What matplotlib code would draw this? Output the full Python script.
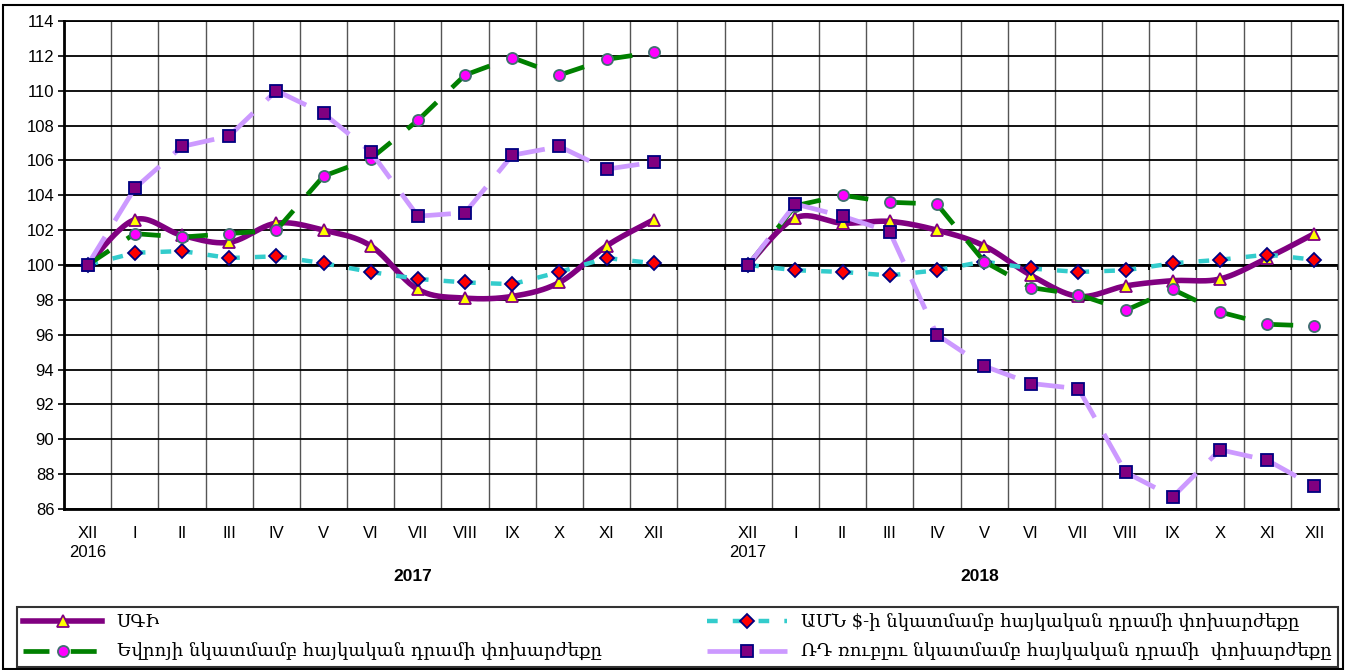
import numpy as np
import matplotlib
matplotlib.use("Agg")
import matplotlib.pyplot as plt
from matplotlib.lines import Line2D
from matplotlib.patches import Rectangle
import matplotlib.transforms as mtransforms

# ---------------- data ----------------
months = ["XII", "I", "II", "III", "IV", "V", "VI", "VII", "VIII", "IX", "X", "XI", "XII"]
periods = ["2017", "2018"]
base_years = ["2016", "2017"]

cpi_2017 = [100, 102.6, 101.7, 101.3, 102.4, 102.0, 101.1, 98.6, 98.1, 98.2, 99.0, 101.1, 102.6]
cpi_2018 = [100, 102.7, 102.4, 102.5, 102.0, 101.1, 99.4, 98.2, 98.8, 99.1, 99.2, 100.4, 101.8]
usd_2017 = [100, 100.7, 100.8, 100.4, 100.5, 100.1, 99.6, 99.2, 99.0, 98.9, 99.6, 100.4, 100.1]
usd_2018 = [100, 99.7, 99.6, 99.4, 99.7, 100.2, 99.8, 99.6, 99.7, 100.1, 100.3, 100.6, 100.3]
eur_2017 = [100, 101.8, 101.6, 101.8, 102.0, 105.1, 106.1, 108.3, 110.9, 111.9, 110.9, 111.8, 112.2]
eur_2018 = [100, 103.4, 104.0, 103.6, 103.5, 100.2, 98.7, 98.3, 97.4, 98.6, 97.3, 96.6, 96.5]
rub_2017 = [100, 104.4, 106.8, 107.4, 110.0, 108.7, 106.5, 102.8, 103.0, 106.3, 106.8, 105.5, 105.9]
rub_2018 = [100, 103.5, 102.8, 101.9, 96.0, 94.2, 93.2, 92.9, 88.1, 86.7, 89.4, 88.8, 87.3]

labels = [
    "ՍԳԻ",
    "ԱՄՆ $-ի նկատմամբ հայկական դրամի փոխարժեքը",
    "Եվրոյի նկատմամբ հայկական դրամի փոխարժեքը",
    "ՌԴ ռուբլու նկատմամբ հայկական դրամի  փոխարժեքը",
]

# ---------------- styles ----------------
C_CPI = "#800080"
C_USD = "#33CCCC"
C_EUR = "#008000"
C_RUB = "#CC99FF"
D_USD = (2.4, 3.4)
D_EUR = (5.5, 4.5)
D_RUB = (7.0, 4.0)

W, H = 1346, 670
fig = plt.figure(figsize=(W / 100, H / 100), dpi=100)
ax = fig.add_axes([64 / W, 1 - 509 / H, (1338 - 64) / W, 488 / H])

n = len(months)
x1 = np.arange(n)
x2 = np.arange(n) + n + 1
xticks = np.concatenate([x1, x2])
xlabels = months + months
ntot = 2 * n + 1

ax.set_xlim(-0.5, ntot - 0.5)
ax.set_ylim(86, 114)
ax.set_yticks(np.arange(86, 115, 2))

bounds = np.arange(-0.5, ntot, 1.0)
ax.set_xticks(bounds, minor=True)
ax.set_xticks(xticks)
ax.set_xticklabels(xlabels, family="Liberation Sans", fontsize=12)
ax.tick_params(axis="x", which="both", length=0, pad=12)
ax.tick_params(axis="y", length=4, width=1.2, pad=3, labelsize=12)
for t in ax.get_yticklabels():
    t.set_family("Liberation Sans")

ax.grid(axis="y", which="major", color="black", lw=1.3, zorder=0)
ax.grid(axis="x", which="minor", color="#555555", lw=1.0, zorder=0)
ax.set_axisbelow(True)
for s in ["left", "bottom"]:
    ax.spines[s].set_linewidth(2.0)
ax.spines["top"].set_linewidth(1.3)
ax.spines["right"].set_linewidth(1.0)
ax.spines["right"].set_color("#555555")

# 100 crossing axis
ax.axhline(100, color="black", lw=2.0, zorder=1)
ax.vlines(bounds, 99.7, 100, color="black", lw=1.3, zorder=1)


def smooth(xs, ys, npts=24):
    pts = np.column_stack([xs, ys]).astype(float)
    out = []
    for i in range(len(pts) - 1):
        p0 = pts[i - 1] if i > 0 else pts[i]
        p1 = pts[i]
        p2 = pts[i + 1]
        p3 = pts[i + 2] if i + 2 < len(pts) else pts[i + 1]
        t = np.linspace(0, 1, npts)[:, None]
        seg = 0.5 * ((2 * p1) + (-p0 + p2) * t + (2 * p0 - 5 * p1 + 4 * p2 - p3) * t ** 2
                     + (-p0 + 3 * p1 - 3 * p2 + p3) * t ** 3)
        out.append(seg if i == 0 else seg[1:])
    s = np.vstack(out)
    return s[:, 0], s[:, 1]


def dashed(xs, ys, color, dashes, lw, z):
    for i in range(len(xs) - 1):
        ax.plot(xs[i:i + 2], ys[i:i + 2], color=color, lw=lw,
                linestyle=(0, dashes), solid_capstyle="butt",
                dash_capstyle="butt", zorder=z)


cpi_mk = dict(marker="^", ms=9, mfc="#FFFF00", mec=C_CPI, mew=1.3)
usd_mk = dict(marker="D", ms=7, mfc="#FF0000", mec="#000080", mew=1.3)
eur_mk = dict(marker="o", ms=8, mfc="#FF00FF", mec="#407070", mew=1.3)
rub_mk = dict(marker="s", ms=8.5, mfc="#800080", mec="#000080", mew=1.3)

for xs, cpi, usd, eur, rub in [(x1, cpi_2017, usd_2017, eur_2017, rub_2017),
                               (x2, cpi_2018, usd_2018, eur_2018, rub_2018)]:
    sx, sy = smooth(xs, cpi)
    ax.plot(sx, sy, color=C_CPI, lw=4.0, zorder=3, solid_capstyle="round")
    ax.plot(xs, cpi, ls="none", zorder=4, **cpi_mk)
    dashed(xs, usd, C_USD, D_USD, 3.2, 5)
    ax.plot(xs, usd, ls="none", zorder=6, **usd_mk)
    dashed(xs, eur, C_EUR, D_EUR, 3.4, 7)
    ax.plot(xs, eur, ls="none", zorder=8, **eur_mk)
    dashed(xs, rub, C_RUB, D_RUB, 3.4, 9)
    ax.plot(xs, rub, ls="none", zorder=10, **rub_mk)

# year annotations
trans = mtransforms.blended_transform_factory(ax.transData, ax.transAxes)
for xs, by, per, off in [(x1, base_years[0], periods[0], 6.9),
                         (x2, base_years[1], periods[1], 4.9)]:
    ax.text(xs[0], -0.09, by, transform=trans, ha="center", va="center",
            family="Liberation Sans", fontsize=12)
    ax.text(xs[0] + off, -0.139, per, transform=trans, ha="center", va="center",
            family="Liberation Sans", fontsize=12.5, fontweight="bold")

# legend
handles = [
    Line2D([], [], color=C_CPI, lw=4.0, **cpi_mk),
    Line2D([], [], color=C_EUR, lw=3.4, linestyle=(0, D_EUR), **eur_mk),
    Line2D([], [], color=C_USD, lw=3.2, linestyle=(0, D_USD), **usd_mk),
    Line2D([], [], color=C_RUB, lw=3.4, linestyle=(0, D_RUB), **rub_mk),
]
leg_labels = [labels[0], labels[2], labels[1], labels[3]]
leg = fig.legend(handles, leg_labels, ncol=2, loc="upper left",
                 bbox_to_anchor=(17 / W, 1 - 668 / H, (1338 - 17) / W, 61 / H),
                 mode="expand", frameon=True, fancybox=False, borderaxespad=0,
                 handlelength=4.4, numpoints=1, labelspacing=0.68, borderpad=0.33,
                 prop={"family": ["DejaVu Serif", "DejaVu Sans"], "size": 13})
leg.get_frame().set_edgecolor("black")
leg.get_frame().set_linewidth(1.5)

# outer border
fig.add_artist(Rectangle((3 / W, 1 / H), (1343 - 3) / W, (665 - 1) / H,
                         transform=fig.transFigure, fill=False, lw=1.5,
                         edgecolor="black"))

fig.savefig("out.png", dpi=100)
